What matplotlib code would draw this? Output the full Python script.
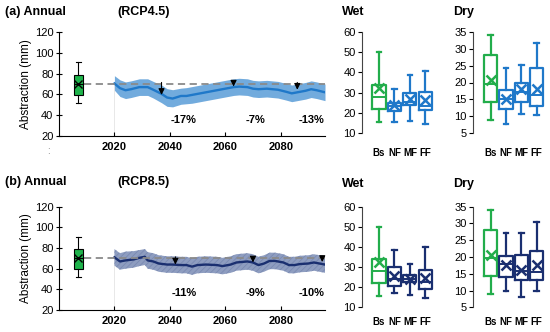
import matplotlib
matplotlib.use("Agg")
import matplotlib.pyplot as plt

plt.rcParams['font.family'] = ['Liberation Sans', 'DejaVu Sans']
plt.rcParams['hatch.linewidth'] = 0.6

# ---------------- data ----------------
base_box = dict(whislo=52, q1=59.5, med=70, q3=79, whishi=91, mean=70)
base_year = 2007
baseline = 70

yrs45 = [2020, 2022, 2024, 2026, 2029, 2032, 2034, 2037, 2039, 2041, 2044, 2046, 2048,
         2051, 2053, 2056, 2058, 2060, 2063, 2065, 2068, 2070, 2072, 2075, 2077, 2079,
         2082, 2084, 2087, 2089, 2091, 2093, 2096]
mean45 = [70.5, 66, 64, 65, 67, 67, 64.5, 60.5, 57, 56, 58.5, 58.5, 59.5, 61, 62, 63.5,
          64.5, 65.5, 67, 67.5, 67, 65.5, 65, 65.5, 65, 64.5, 62.5, 61, 62.5, 63.5, 65, 64, 62]
up45 = [78, 74, 72, 73, 75, 75, 72.5, 69, 65.5, 64.5, 66, 66.5, 67.5, 69, 70, 71.5,
        72.5, 73.5, 75, 75.5, 75, 73.5, 73, 73.5, 73, 72.5, 70.5, 69, 70.5, 71.5, 73, 72, 70]
lo45 = [64, 58, 56, 57, 59, 59, 56.5, 52, 48.5, 48, 50.5, 51, 51.5, 53, 54, 55.5,
        56.5, 57.5, 59, 59.5, 59, 57.5, 57, 57.5, 57, 56.5, 54.5, 53, 54.5, 55.5, 57, 56, 54]
arrows45 = [(2037, 59.5), (2063, 67.5), (2086, 64.5)]
labels45 = [(2045, 35, '-17%'), (2071, 35, '-7%'), (2091, 35, '-13%')]

yrs85 = [2020, 2022, 2024, 2027, 2029, 2031, 2032, 2034, 2036, 2039, 2041, 2044, 2046,
         2048, 2050, 2053, 2057, 2059, 2062, 2064, 2068, 2070, 2072, 2074, 2076, 2078,
         2081, 2083, 2085, 2087, 2090, 2092, 2094, 2096]
mean85 = [71, 67, 68, 69, 70.5, 71.5, 68, 67, 65, 64, 64, 63.5, 63.5, 62, 63.5, 64, 63.5,
          62.5, 64, 66, 67, 66, 63.5, 65, 67.5, 67.5, 66, 63.5, 63.5, 64.5, 65, 66, 65, 64]
up85 = [79, 75, 76.5, 77, 78, 79, 76, 75, 73, 72, 72, 71.5, 71.5, 70, 71.5, 72, 71.5,
        70.5, 72, 74, 75, 74, 71.5, 73, 75.5, 75.5, 74, 71.5, 71.5, 72.5, 73, 74, 73, 72]
lo85 = [63, 59, 60, 61, 62.5, 63.5, 60, 59, 57, 56, 56, 55.5, 55.5, 54, 55.5, 56, 55.5,
        54.5, 56, 58, 59, 58, 55.5, 57, 59.5, 59.5, 58, 55.5, 55.5, 56.5, 57, 58, 57, 56]
arrows85 = [(2042, 64), (2070, 66), (2095, 66.5)]
labels85 = [(2045, 36, '-11%'), (2071, 36, '-9%'), (2091, 36, '-10%')]

categories = ['Bs', 'NF', 'MF', 'FF']
# each: (whislo, q1, med, q3, whishi, mean)
wet45 = [(15.5, 22, 28, 34, 50, 32.5), (15.5, 21, 23.5, 25, 32, 24),
         (16, 24, 25.5, 30, 38.5, 27), (14.5, 21.5, 23.5, 30.5, 40.5, 26.5)]
dry45 = [(9, 14.2, 19.6, 28.2, 34, 20.7), (7.8, 12.2, 15, 17.8, 24.2, 15.2),
         (10.5, 14.3, 17.1, 19.9, 25.1, 18), (10.2, 13.1, 16.3, 24.3, 31.6, 18.1)]
wet85 = [(15.5, 22, 28, 34, 50, 32.5), (17.3, 20.8, 24.3, 30, 38.6, 25.8),
         (16.3, 22.8, 24, 26, 31.5, 24), (14.7, 19.3, 22.6, 28.5, 39.8, 24.6)]
dry85 = [(9, 14.2, 19.6, 28.2, 34, 20.7), (10, 14, 17.9, 20.3, 27.2, 17.6),
         (8.1, 13.2, 15.8, 20.5, 27.1, 16.2), (10, 13.2, 15.5, 21.8, 30.4, 17.6)]

GREEN = '#22ad4b'
GREEN_FILL = '#1fb44c'
BLUE = '#1f78c9'
BLUE_BAND = '#72abdd'
NAVY = '#1a2f70'
NAVY_BAND = '#8e9dc0'

fig = plt.figure(figsize=(5.5, 3.32), dpi=100)


def to_stats(t):
    return dict(whislo=t[0], q1=t[1], med=t[2], q3=t[3], whishi=t[4], mean=t[5])


def main_panel(rect, yrs, mean, up, lo, line_col, band_col, hatch, arrows, labels):
    ax = fig.add_axes(rect)
    ax.set_xlim(2000, 2096)
    ax.set_ylim(20, 120)
    if hatch:
        ax.fill_between(yrs, lo, up, facecolor=band_col, edgecolor='#7a8ab2',
                        hatch='//////', linewidth=0, zorder=2)
    else:
        ax.fill_between(yrs, lo, up, color=band_col, linewidth=0, zorder=2)
    ax.plot(yrs, mean, color=line_col, lw=1.7, zorder=3)
    ax.plot([2009, 2096], [baseline, baseline], color='#8a8a8a', lw=1.3,
            ls=(0, (4, 2.5)), zorder=4)
    ax.axvline(2020, ymax=0.5, color='#e4e4e4', lw=0.6, zorder=1)
    ax.bxp([base_box], positions=[base_year], widths=3.4, patch_artist=True,
           showmeans=True, showfliers=False, manage_ticks=False,
           boxprops=dict(facecolor=GREEN_FILL, edgecolor='black', lw=0.8),
           whiskerprops=dict(color='black', lw=0.8),
           capprops=dict(color='black', lw=0.8),
           medianprops=dict(color='black', lw=0.8),
           meanprops=dict(marker='x', markeredgecolor='black', markersize=6,
                          markeredgewidth=1.0),
           capwidths=1.6, zorder=5)
    for (yr, tip) in arrows:
        ax.annotate('', xy=(yr, tip), xytext=(yr, baseline + 1.5),
                    arrowprops=dict(arrowstyle='-|>', color='black', lw=0.8,
                                    mutation_scale=9, shrinkA=0, shrinkB=0), zorder=6)
    for (yr, v, s) in labels:
        ax.text(yr, v, s, ha='center', va='center', fontsize=8, fontweight='bold')
    ax.spines['top'].set_visible(False)
    ax.spines['right'].set_visible(False)
    ax.spines['left'].set_linewidth(0.8)
    ax.spines['bottom'].set_linewidth(0.8)
    ax.set_yticks([20, 40, 60, 80, 100, 120])
    ax.set_xticks([2020, 2040, 2060, 2080])
    ax.tick_params(axis='y', direction='inout', length=5, width=0.8, labelsize=8, pad=1.5)
    ax.tick_params(axis='x', direction='in', length=3, width=0.8, labelsize=8, pad=4)
    for t in ax.get_xticklabels():
        t.set_fontweight('bold')
    ax.set_ylabel('Abstraction (mm)', fontsize=8.5, labelpad=2)
    return ax


def small_panel(rect, data, col, ylim, yticks, xlim, xpad):
    ax = fig.add_axes(rect)
    stats = [to_stats(t) for t in data]
    pos = [1, 2, 3, 4]
    b = ax.bxp(stats, positions=pos, widths=0.85, showmeans=True, showfliers=False,
               capwidths=0.3)
    cols = [GREEN, col, col, col]
    for i, c in enumerate(cols):
        b['boxes'][i].set(color=c, lw=1.6)
        b['medians'][i].set(color=c, lw=1.4)
        for k in (2 * i, 2 * i + 1):
            b['whiskers'][k].set(color=c, lw=1.6)
            b['caps'][k].set(color=c, lw=1.6)
        b['means'][i].set(marker='x', markeredgecolor=c, markersize=6.5,
                          markeredgewidth=1.8)
    ax.set_ylim(*ylim)
    ax.set_xlim(*xlim)
    ax.set_yticks(yticks)
    ax.set_xticks(pos)
    ax.set_xticklabels(categories)
    for s in ('top', 'right', 'bottom'):
        ax.spines[s].set_visible(False)
    ax.spines['left'].set_linewidth(0.8)
    ax.spines['left'].set_color('#444444')
    ax.tick_params(axis='y', direction='out', length=3, width=0.8, labelsize=8, pad=1.5)
    ax.tick_params(axis='x', length=0, labelsize=7, pad=xpad)
    for t in ax.get_xticklabels():
        t.set_fontweight('bold')
    return ax


W, H = 550.0, 332.0


def rect(x0, x1, ytop, ybot):
    return [x0 / W, 1 - ybot / H, (x1 - x0) / W, (ybot - ytop) / H]


ax1 = main_panel(rect(59, 325, 32, 136), yrs45, mean45, up45, lo45, BLUE, BLUE_BAND,
                 False, arrows45, labels45)
ax2 = main_panel(rect(59, 325, 206.7, 310), yrs85, mean85, up85, lo85, NAVY, NAVY_BAND,
                 True, arrows85, labels85)

small_panel(rect(362, 440, 32, 133), wet45, BLUE, (10, 60), [10, 20, 30, 40, 50, 60],
            (-0.1, 4.95), 11)
small_panel(rect(473, 549, 32, 133), dry45, BLUE, (5, 35), [5, 10, 15, 20, 25, 30, 35],
            (-0.15, 4.8), 11)
small_panel(rect(362, 440, 206.7, 307.3), wet85, NAVY, (10, 60), [10, 20, 30, 40, 50, 60],
            (-0.1, 4.95), 7)
small_panel(rect(473, 549, 206.7, 307.3), dry85, NAVY, (5, 35), [5, 10, 15, 20, 25, 30, 35],
            (-0.15, 4.8), 7)

# titles
fs_t = 9
fig.text(5 / W, 1 - 12 / H, '(a) Annual', fontsize=fs_t, fontweight='bold', va='center')
fig.text(117 / W, 1 - 12 / H, '(RCP4.5)', fontsize=fs_t, fontweight='bold', va='center')
fig.text(342 / W, 1 - 12 / H, 'Wet', fontsize=fs_t, fontweight='bold', va='center')
fig.text(453 / W, 1 - 12 / H, 'Dry', fontsize=fs_t, fontweight='bold', va='center')
fig.text(5 / W, 1 - 182 / H, '(b) Annual', fontsize=fs_t, fontweight='bold', va='center')
fig.text(117 / W, 1 - 182 / H, '(RCP8.5)', fontsize=fs_t, fontweight='bold', va='center')
fig.text(342 / W, 1 - 184 / H, 'Wet', fontsize=fs_t, fontweight='bold', va='center')
fig.text(453 / W, 1 - 184 / H, 'Dry', fontsize=fs_t, fontweight='bold', va='center')
fig.text(48 / W, 1 - 151 / H, ':', fontsize=7, color='#777777', ha='center', va='center')

fig.savefig('out.png', dpi=100)
